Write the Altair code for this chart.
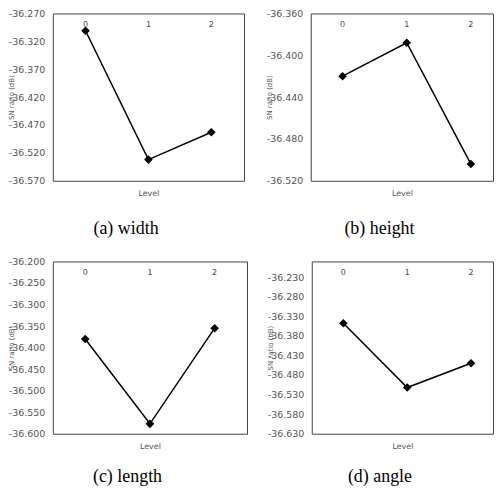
import altair as alt
import pandas as pd

levels = ["0", "1", "2"]
width_sn = [-36.301, -36.532, -36.483]
height_sn = [-36.420, -36.388, -36.504]
length_sn = [-36.380, -36.577, -36.355]
angle_sn = [-36.348, -36.512, -36.450]

width_ticks = [-36.270, -36.320, -36.370, -36.420, -36.470, -36.520, -36.570]
height_ticks = [-36.360, -36.400, -36.440, -36.480, -36.520]
length_ticks = [-36.200, -36.250, -36.300, -36.350, -36.400, -36.450, -36.500, -36.550, -36.600]
angle_ticks = [-36.230, -36.280, -36.330, -36.380, -36.430, -36.480, -36.530, -36.580, -36.630]

GRAY = "#555555"
SANS = "DejaVu Sans"


def panel(values, domain, ticks, caption, w, h, pad, align, cap_offset):
    df = pd.DataFrame({"Level": levels, "SN": values})
    base = alt.Chart(df)
    x = alt.X(
        "Level:N",
        scale=alt.Scale(type="point", padding=pad, align=align),
        axis=alt.Axis(
            title="Level", labels=False, ticks=False, domain=False,
            titlePadding=9, titleFontSize=8, titleFontWeight="normal",
            titleColor=GRAY, titleFont=SANS,
        ),
    )
    y = alt.Y(
        "SN:Q",
        scale=alt.Scale(domain=domain, nice=False, zero=False),
        axis=alt.Axis(
            title="SN ratio (dB)", values=ticks, grid=False,
            labelExpr="'-' + format(-datum.value, '.3f')",
            ticks=False, domain=False, labelPadding=8, labelFontSize=9.5,
            labelColor=GRAY, labelFont=SANS, labelOverlap=False,
            labelFlush=False, labelBound=False, titleX=-38, titleY=h / 2,
            titleFontSize=7, titleFontWeight="normal", titleColor=GRAY,
            titleFont=SANS,
        ),
    )
    line = base.mark_line(color="black", strokeWidth=1.5).encode(x=x, y=y)
    pts = base.mark_point(shape="diamond", filled=True, color="black",
                          size=75, opacity=1).encode(x=x, y=y)
    txt = base.mark_text(fontSize=8, color="#444444", font=SANS).encode(
        x=x, y=alt.value(12), text="Level:N")
    return alt.layer(line, pts, txt).properties(
        width=w, height=h,
        title=alt.TitleParams(
            caption, orient="bottom", anchor="middle", frame="bounds",
            font="Liberation Serif", fontSize=18, fontWeight="normal",
            color="black", offset=cap_offset,
        ),
    )


a = panel(width_sn, [-36.570, -36.270], width_ticks, "(a) width", 192, 168, 0.52, 0.5, 22)
b = panel(height_sn, [-36.520, -36.360], height_ticks, "(b) height", 183, 168, 0.42, 0.59, 22)
c = panel(length_sn, [-36.600, -36.200], length_ticks, "(c) length", 195, 173, 0.5, 0.5, 17)
d = panel(angle_sn, [-36.630, -36.190], angle_ticks, "(d) angle", 182, 173, 0.42, 0.59, 17)

chart = alt.vconcat(
    alt.hconcat(a, b, spacing=20),
    alt.hconcat(c, d, spacing=18),
    spacing=17,
).properties(
    padding={"left": -1, "top": -1.5, "right": 0, "bottom": 0}
).configure_view(
    stroke="#444444", strokeWidth=1
).configure_axis(labelOverlap=False)

chart.save("out.html", embed_options={"renderer": "svg", "actions": False})
